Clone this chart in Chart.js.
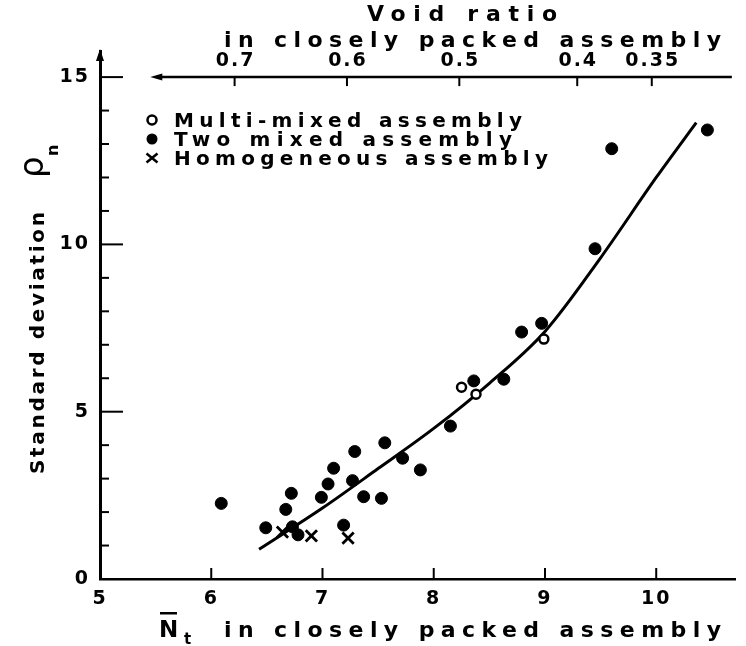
<!DOCTYPE html>
<html>
<head>
<meta charset="utf-8">
<script src="https://cdn.jsdelivr.net/npm/chart.js@4.4.0/dist/chart.umd.min.js"></script>
<style>
  html, body { margin: 0; padding: 0; background: #fff; }
</style>
</head>
<body>
<canvas id="packingChart" width="746" height="646"></canvas>
<script>
// values
const xTicks = [5, 6, 7, 8, 9, 10];
const yTicks = [0, 5, 10, 15];
const yMinorTicks = [1, 2, 3, 4, 6, 7, 8, 9, 11, 12, 13, 14];

// top axis: void ratio, put at the N_t it lines up with
const voidRatioLabels = ['0.7', '0.6', '0.5', '0.4', '0.35'];
const voidRatioAtN = [6.21, 7.22, 8.23, 9.29, 9.96];

const multiN = [8.25, 8.38, 8.99];
const multiSd = [5.73, 5.52, 7.17];

const twoN = [6.09, 6.49, 6.67, 6.72, 6.73, 6.78, 6.99, 7.05, 7.10, 7.29, 7.27, 7.19, 7.37,
              7.53, 7.56, 7.72, 7.88, 8.15, 8.36, 8.63, 8.79, 8.97, 9.45, 9.60, 10.46];
const twoSd = [2.26, 1.53, 2.08, 2.56, 1.56, 1.32, 2.44, 2.84, 3.31, 3.81, 2.94, 1.61, 2.46,
               2.41, 4.07, 3.61, 3.26, 4.57, 5.92, 5.97, 7.38, 7.64, 9.87, 12.86, 13.42];

const homoN = [6.64, 6.90, 7.23];
const homoSd = [1.40, 1.29, 1.22];

const curveN = [6.43, 7.0, 7.5, 8.0, 8.5, 9.0, 9.5, 10.0, 10.36];
const curveSd = [0.89, 2.12, 3.3, 4.5, 5.85, 7.4, 9.6, 12.0, 13.64];

const FONT = '"DejaVu Sans", sans-serif';

function toPoints(xs, ys) {
    return xs.map((x, i) => ({ x: x, y: ys[i] }));
}

// draw text stretched out with letter spacing so it covers `width`
function spacedText(ctx, text, x, y, width, font) {
    ctx.save();
    ctx.font = font;
    ctx.letterSpacing = '0px';
    const w = ctx.measureText(text).width;
    const gap = text.length > 1 ? Math.max(0, (width - w) / (text.length - 1)) : 0;
    ctx.letterSpacing = gap + 'px';
    ctx.textAlign = 'left';
    ctx.textBaseline = 'alphabetic';
    ctx.fillText(text, x, y);
    ctx.restore();
}

const paperAxes = {
    id: 'paperAxes',
    beforeDraw(chart) {
        chart.ctx.letterSpacing = '2px';
    },
    afterDraw(chart) {
        const ctx = chart.ctx;
        const xs = chart.scales.x;
        const ys = chart.scales.y;
        const area = chart.chartArea;
        ctx.save();
        ctx.strokeStyle = '#000';
        ctx.fillStyle = '#000';
        ctx.lineCap = 'butt';

        // y axis arrow head
        ctx.beginPath();
        ctx.moveTo(area.left, area.top - 2);
        ctx.lineTo(area.left - 4, area.top + 10);
        ctx.lineTo(area.left + 4, area.top + 10);
        ctx.closePath();
        ctx.fill();

        // y ticks pointing inward
        ctx.lineWidth = 2;
        yTicks.slice(1).forEach(v => {
            const py = ys.getPixelForValue(v);
            ctx.beginPath();
            ctx.moveTo(area.left, py);
            ctx.lineTo(area.left + 23, py);
            ctx.stroke();
        });
        yMinorTicks.forEach(v => {
            const py = ys.getPixelForValue(v);
            ctx.beginPath();
            ctx.moveTo(area.left, py);
            ctx.lineTo(area.left + 9, py);
            ctx.stroke();
        });

        // x ticks pointing up
        xTicks.slice(1).forEach(v => {
            const px = xs.getPixelForValue(v);
            ctx.beginPath();
            ctx.moveTo(px, area.bottom);
            ctx.lineTo(px, area.bottom - 11);
            ctx.stroke();
        });

        // top void ratio axis, drawn along sd = 15
        const topY = ys.getPixelForValue(15);
        const x0 = xs.getPixelForValue(5.47);
        const x1 = xs.getPixelForValue(10.68);
        ctx.lineWidth = 2.5;
        ctx.beginPath();
        ctx.moveTo(x0 + 6, topY);
        ctx.lineTo(x1, topY);
        ctx.stroke();
        ctx.beginPath();
        ctx.moveTo(x0 - 2, topY);
        ctx.lineTo(x0 + 10, topY - 3.5);
        ctx.lineTo(x0 + 10, topY + 3.5);
        ctx.closePath();
        ctx.fill();

        ctx.lineWidth = 2;
        ctx.font = 'bold 19px ' + FONT;
        ctx.textAlign = 'center';
        ctx.textBaseline = 'alphabetic';
        ctx.letterSpacing = '2px';
        voidRatioAtN.forEach((n, i) => {
            const px = xs.getPixelForValue(n);
            ctx.beginPath();
            ctx.moveTo(px, topY);
            ctx.lineTo(px, topY + 9);
            ctx.stroke();
            ctx.fillText(voidRatioLabels[i], px + 1, topY - 11);
        });

        spacedText(ctx, 'Void ratio', 367, 21, 190, 'bold 22px ' + FONT);
        spacedText(ctx, 'in closely packed assembly', 224, 47, 497, 'bold 22px ' + FONT);

        // legend
        const legendX = 152;
        const rows = [120, 139, 158];
        ctx.lineWidth = 2.5;
        ctx.beginPath();
        ctx.arc(legendX, rows[0], 4.5, 0, Math.PI * 2);
        ctx.stroke();
        ctx.beginPath();
        ctx.arc(legendX, rows[1], 5.5, 0, Math.PI * 2);
        ctx.fill();
        ctx.beginPath();
        ctx.moveTo(legendX - 5.5, rows[2] - 4.5);
        ctx.lineTo(legendX + 5.5, rows[2] + 4.5);
        ctx.moveTo(legendX + 5.5, rows[2] - 4.5);
        ctx.lineTo(legendX - 5.5, rows[2] + 4.5);
        ctx.stroke();
        const legendFont = 'bold 20px ' + FONT;
        spacedText(ctx, 'Multi-mixed assembly', 174, rows[0] + 7, 348, legendFont);
        spacedText(ctx, 'Two mixed assembly', 174, rows[1] + 7, 338, legendFont);
        spacedText(ctx, 'Homogeneous assembly', 174, rows[2] + 7, 374, legendFont);

        // x title: N-bar sub t
        ctx.font = 'bold 23px ' + FONT;
        ctx.textAlign = 'left';
        ctx.letterSpacing = '0px';
        ctx.fillText('N', 159, 637);
        ctx.fillRect(160, 612, 17, 2.5);
        ctx.font = 'bold 15px ' + FONT;
        ctx.fillText('t', 184, 644);
        spacedText(ctx, 'in closely packed assembly', 224, 637, 497, 'bold 22px ' + FONT);

        // y title, rotated
        ctx.save();
        ctx.translate(44, 474);
        ctx.rotate(-Math.PI / 2);
        spacedText(ctx, 'Standard deviation', 0, 0, 262, 'bold 20px ' + FONT);
        ctx.font = '34px ' + FONT;
        ctx.letterSpacing = '0px';
        ctx.textAlign = 'left';
        ctx.fillText('\u03C1', 296, -1);
        ctx.font = 'bold 16px ' + FONT;
        ctx.fillText('n', 318, 14);
        ctx.restore();

        ctx.restore();
    }
};

const ctx = document.getElementById('packingChart').getContext('2d');
const chart = new Chart(ctx, {
    type: 'scatter',
    data: {
        datasets: [{
            label: 'Multi-mixed assembly',
            data: toPoints(multiN, multiSd),
            pointStyle: 'circle',
            pointRadius: 4.5,
            borderWidth: 2.5,
            borderColor: '#000',
            backgroundColor: '#fff'
        }, {
            label: 'Two mixed assembly',
            data: toPoints(twoN, twoSd),
            pointStyle: 'circle',
            pointRadius: 6,
            borderWidth: 1,
            borderColor: '#000',
            backgroundColor: '#000'
        }, {
            label: 'Homogeneous assembly',
            data: toPoints(homoN, homoSd),
            pointStyle: 'crossRot',
            pointRadius: 8,
            borderWidth: 2.8,
            borderColor: '#000'
        }, {
            label: 'fit',
            type: 'line',
            data: toPoints(curveN, curveSd),
            showLine: true,
            borderColor: '#000',
            borderWidth: 3,
            pointRadius: 0,
            cubicInterpolationMode: 'monotone',
            fill: false
        }]
    },
    options: {
        responsive: false,
        animation: false,
        devicePixelRatio: 1,
        layout: { padding: { top: 51, right: 4, left: 0, bottom: 0 } },
        plugins: {
            legend: { display: false },
            tooltip: { enabled: false }
        },
        scales: {
            x: {
                type: 'linear',
                min: 5,
                max: 10.71,
                afterBuildTicks: s => { s.ticks = xTicks.map(v => ({ value: v })); },
                afterFit: s => { s.height = 67; },
                grid: { display: false, drawTicks: false },
                border: { display: true, color: '#000', width: 2.5 },
                ticks: {
                    color: '#000',
                    padding: 9,
                    maxRotation: 0,
                    font: { family: FONT, weight: 'bold', size: 19 }
                }
            },
            y: {
                type: 'linear',
                min: 0,
                max: 15.78,
                afterBuildTicks: s => { s.ticks = yTicks.map(v => ({ value: v })); },
                afterFit: s => { s.width = 100; },
                grid: { display: false, drawTicks: false },
                border: { display: true, color: '#000', width: 3 },
                ticks: {
                    color: '#000',
                    padding: 10,
                    font: { family: FONT, weight: 'bold', size: 19 }
                }
            }
        }
    },
    plugins: [paperAxes]
});
</script>
</body>
</html>
